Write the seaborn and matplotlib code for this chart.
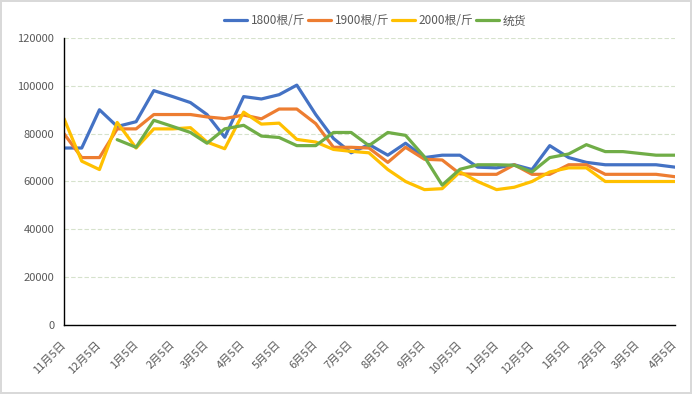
import pandas as pd
import numpy as np
import matplotlib
matplotlib.use('Agg')
import matplotlib.pyplot as plt
import matplotlib.dates as mdates
from matplotlib.ticker import FuncFormatter, MultipleLocator
import seaborn as sns

# --- dados ---
datas = pd.to_datetime([
    '2019-11-05', '2019-11-20', '2019-12-05', '2019-12-20',
    '2020-01-05', '2020-01-20', '2020-02-05', '2020-02-20',
    '2020-03-05', '2020-03-20', '2020-04-05', '2020-04-20',
    '2020-05-05', '2020-05-20', '2020-06-05', '2020-06-20',
    '2020-07-05', '2020-07-20', '2020-08-05', '2020-08-20',
    '2020-09-05', '2020-09-20', '2020-10-05', '2020-10-20',
    '2020-11-05', '2020-11-20', '2020-12-05', '2020-12-20',
    '2021-01-05', '2021-01-20', '2021-02-05', '2021-02-20',
    '2021-03-05', '2021-03-20', '2021-04-05',
])

s1800 = [74000, 74000, 90000, 83000, 85000, 98000, 95500, 93000, 88000, 78500,
         95500, 94500, 96300, 100300, 88000, 78000, 72000, 75500, 71000, 76000,
         70000, 71000, 71000, 66000, 65700, 67000, 65000, 75000, 70000, 68000,
         67000, 67000, 67000, 67000, 66000]
s1900 = [80000, 70000, 70000, 82000, 82000, 88000, 88000, 88000, 87000, 86300,
         87800, 86200, 90300, 90300, 84200, 74300, 74300, 74000, 68000, 74300,
         69300, 69000, 63200, 63000, 63000, 67000, 63000, 63000, 67000, 67000,
         63000, 63000, 63000, 63000, 62000]
s2000 = [86300, 68500, 65000, 84700, 74000, 82000, 82000, 82500, 76500, 73700,
         89000, 84000, 84400, 77600, 76500, 73400, 72600, 72000, 65000, 60000,
         56600, 57000, 64000, 60000, 56600, 57600, 60000, 64000, 65700, 65700,
         60000, 60000, 60000, 60000, 60000]
tonghuo = [np.nan, np.nan, np.nan, 77500, 74300, 85600, 83000, 80500, 76000, 82000,
           83500, 79000, 78400, 75000, 75000, 80500, 80500, 75000, 80500, 79300,
           70300, 58500, 65100, 67000, 67000, 66800, 64000, 70000, 71500, 75400,
           72500, 72500, 71800, 71000, 71000]

series = ['1800根/斤', '1900根/斤', '2000根/斤', '统货']
cores = ['#4472C4', '#ED7D31', '#FFC000', '#70AD47']

df = pd.DataFrame({'data': datas, series[0]: s1800, series[1]: s1900,
                   series[2]: s2000, series[3]: tonghuo})
df_long = df.melt(id_vars='data', var_name='serie', value_name='preco').dropna()

# --- gráfico ---
sns.set_style('white')
plt.rcParams['font.family'] = ['Noto Sans CJK SC', 'DejaVu Sans']

fig = plt.figure(figsize=(6.92, 3.94), dpi=100, edgecolor='#d9d9d9', linewidth=1.5)
ax = fig.add_axes([64 / 692, 1 - 325 / 394, 611 / 692, 287 / 394])

sns.lineplot(data=df_long, x='data', y='preco', hue='serie', hue_order=series,
             palette=cores, linewidth=2.3, ax=ax, sort=False)

ax.set_xlim(datas[0], datas[-1])
ax.set_ylim(0, 120000)
ax.yaxis.set_major_locator(MultipleLocator(20000))
ax.xaxis.set_major_locator(mdates.MonthLocator(bymonthday=5))
ax.xaxis.set_major_formatter(FuncFormatter(
    lambda v, p: f"{mdates.num2date(v).month}月{mdates.num2date(v).day}日"))

ax.grid(axis='y', color='#d6e2cc', linestyle=(0, (4, 2)), linewidth=0.8)
ax.grid(axis='x', visible=False)
ax.set_xlabel('')
ax.set_ylabel('')

for lado in ['top', 'right']:
    ax.spines[lado].set_visible(False)
for lado in ['left', 'bottom']:
    ax.spines[lado].set_color('black')
    ax.spines[lado].set_linewidth(1.0)

ax.tick_params(axis='both', direction='in', length=4, width=1, color='black',
               labelcolor='#595959', labelsize=8)
ax.tick_params(axis='y', pad=7)
ax.tick_params(axis='x', pad=13)
for lbl in ax.get_xticklabels():
    lbl.set_rotation(45)
    lbl.set_ha('right')
    lbl.set_va('center')
    lbl.set_rotation_mode('anchor')

handles, labels = ax.get_legend_handles_labels()
ax.get_legend().remove()
fig.legend(handles, labels, loc='center', bbox_to_anchor=(375 / 692, 1 - 21 / 394),
           ncol=4, frameon=False, fontsize=8.5, labelcolor='#595959',
           handlelength=2.0, handletextpad=0.3, columnspacing=0.2)

fig.savefig('out.png', dpi=100, edgecolor=fig.get_edgecolor())
